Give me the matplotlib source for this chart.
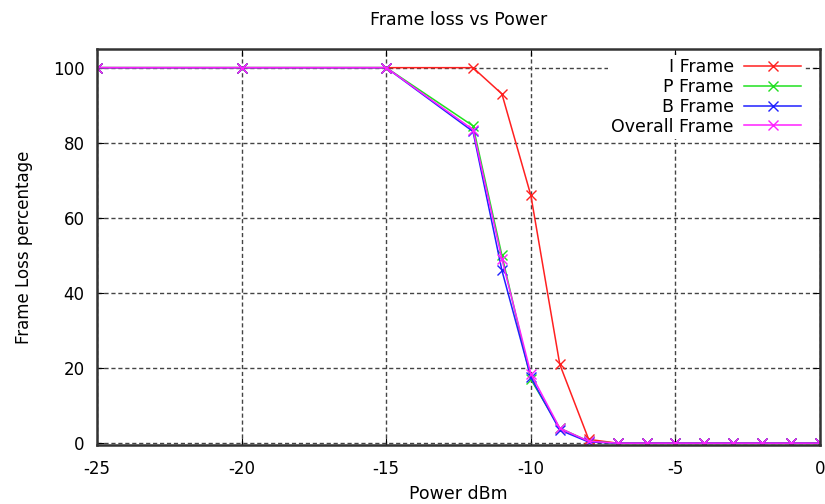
import matplotlib.pyplot as plt

plt.rcParams['axes.unicode_minus'] = False

power = [-25, -20, -15, -12, -11, -10, -9, -8, -7, -6, -5, -4, -3, -2, -1, 0]
i_frame = [100, 100, 100, 100, 93, 66, 21, 1, 0, 0, 0, 0, 0, 0, 0, 0]
p_frame = [100, 100, 100, 84.5, 50, 17, 4, 0.5, 0, 0, 0, 0, 0, 0, 0, 0]
b_frame = [100, 100, 100, 83, 46, 17.5, 3.5, 0.3, 0, 0, 0, 0, 0, 0, 0, 0]
overall = [100, 100, 100, 83.5, 49, 18.5, 4, 0.5, 0, 0, 0, 0, 0, 0, 0, 0]

fig = plt.figure(figsize=(8.25, 5.04), dpi=100)
ax = fig.add_axes([0.1176, 0.117, 0.8764, 0.786])

ax.plot(power, i_frame, color='#ff2020', lw=1.1, marker='x', ms=7, label='I Frame')
ax.plot(power, p_frame, color='#20e020', lw=1.1, marker='x', ms=7, label='P Frame')
ax.plot(power, b_frame, color='#2020ff', lw=1.1, marker='x', ms=7, label='B Frame')
ax.plot(power, overall, color='#ff20ff', lw=1.1, marker='x', ms=7, label='Overall Frame')

ax.set_xlim(-25, 0)
ax.set_ylim(-0.5, 105)
ax.set_xticks([-25, -20, -15, -10, -5, 0])
ax.set_yticks([0, 20, 40, 60, 80, 100])
ax.tick_params(direction='in', top=True, right=True, labelsize=12, length=5)
ax.tick_params(axis='x', pad=11)
ax.tick_params(axis='y', pad=9)
ax.grid(True, ls=(0, (3, 2)), color='#444444', lw=1)
for s in ax.spines.values():
    s.set_linewidth(1.8)
    s.set_color('#333333')

ax.set_title('Frame loss vs Power', fontsize=12.5, pad=17)
ax.set_xlabel('Power dBm', fontsize=12.5, labelpad=5)
ax.set_ylabel('Frame Loss percentage', fontsize=12, labelpad=14)

leg = ax.legend(loc='upper right', bbox_to_anchor=(0.979, 0.985),
                markerfirst=False, fontsize=12.5, frameon=True,
                fancybox=False, edgecolor='none', framealpha=1,
                handlelength=3.3, handletextpad=0.6, labelspacing=0.1,
                borderaxespad=0, borderpad=0.2)
for t in leg.get_texts():
    t.set_ha('right')

fig.savefig('out.png', dpi=100)
